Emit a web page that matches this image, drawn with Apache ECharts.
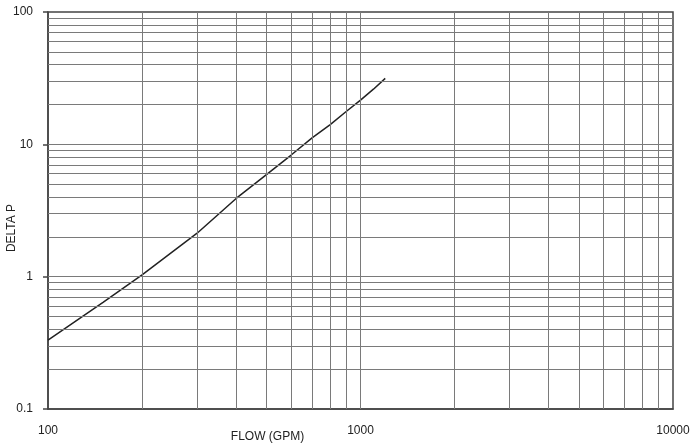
<!DOCTYPE html>
<html>
<head>
<meta charset="utf-8">
<script src="https://cdn.jsdelivr.net/npm/echarts@6/dist/echarts.min.js"></script>
<style>
html,body{margin:0;padding:0;background:#fff;}
#chart{width:694px;height:446px;}
</style>
</head>
<body>
<div id="chart"></div>
<script>
// Data (log-log)
var flowGpm = [100, 150, 200, 300, 400, 500, 600, 700, 800, 900, 1000, 1100, 1200];
var deltaP  = [0.332, 0.64, 1.03, 2.13, 3.9, 5.9, 8.3, 11.2, 14.1, 17.7, 21.6, 26.1, 31.5];

var xTickLabels = ['100', '1000', '10000'];
var yTickLabels = ['0.1', '1', '10', '100'];

var xGridValues = [200,300,400,500,600,700,800,900,1000,2000,3000,4000,5000,6000,7000,8000,9000];
var yGridValues = [0.2,0.3,0.4,0.5,0.6,0.7,0.8,0.9,1,2,3,4,5,6,7,8,9,10,20,30,40,50,60,70,80,90];

var xTitle = 'FLOW (GPM)';
var yTitle = 'DELTA P';

var lineData = flowGpm.map(function (x, i) { return [x, deltaP[i]]; });

var gridMarks = [];
xGridValues.forEach(function (v) { gridMarks.push({ xAxis: v }); });
yGridValues.forEach(function (v) { gridMarks.push({ yAxis: v }); });

var chart = echarts.init(document.getElementById('chart'), null, { renderer: 'canvas' });
var textColor = '#222';
var fontFamily = '"Liberation Sans", Arial, Helvetica, sans-serif';

chart.setOption({
  animation: false,
  backgroundColor: '#fff',
  grid: {
    left: 48, right: 21, top: 12, bottom: 37,
    show: true, borderColor: '#444', borderWidth: 1.5, backgroundColor: 'transparent'
  },
  xAxis: {
    type: 'log', logBase: 10, min: 100, max: 10000,
    axisLine: { show: true, lineStyle: { color: '#444', width: 1.5 } },
    axisTick: { show: false },
    splitLine: { show: false },
    minorTick: { show: false },
    axisLabel: {
      color: textColor, fontSize: 12, fontFamily: fontFamily, margin: 16,
      formatter: function (v) {
        var s = String(Math.round(v));
        return xTickLabels.indexOf(s) >= 0 ? s : '';
      }
    }
  },
  yAxis: {
    type: 'log', logBase: 10, min: 0.1, max: 100,
    axisLine: { show: true, lineStyle: { color: '#444', width: 1.5 } },
    axisTick: { show: true, length: 5, lineStyle: { color: '#444', width: 1.5 } },
    splitLine: { show: false },
    minorTick: { show: false },
    axisLabel: {
      color: textColor, fontSize: 12, fontFamily: fontFamily, margin: 15,
      formatter: function (v) {
        var s = v < 1 ? String(Math.round(v * 10) / 10) : String(Math.round(v));
        return yTickLabels.indexOf(s) >= 0 ? s : '';
      }
    }
  },
  series: [{
    type: 'line',
    data: lineData,
    showSymbol: false,
    symbol: 'none',
    smooth: false,
    lineStyle: { color: '#222', width: 1.5 },
    z: 3,
    markLine: {
      silent: true,
      symbol: ['none', 'none'],
      label: { show: false },
      lineStyle: { color: '#7a7a7a', width: 1, type: 'solid' },
      emphasis: { disabled: true },
      animation: false,
      data: gridMarks
    }
  }],
  graphic: [
    {
      type: 'text', left: null, x: 267.5, y: 437,
      style: { text: xTitle, fill: textColor, font: '12px ' + fontFamily, textAlign: 'center', textVerticalAlign: 'middle' }
    },
    {
      type: 'text', x: 12, y: 228, rotation: Math.PI / 2,
      style: { text: yTitle, fill: textColor, font: '12px ' + fontFamily, textAlign: 'center', textVerticalAlign: 'middle' }
    }
  ]
});
</script>
</body>
</html>
